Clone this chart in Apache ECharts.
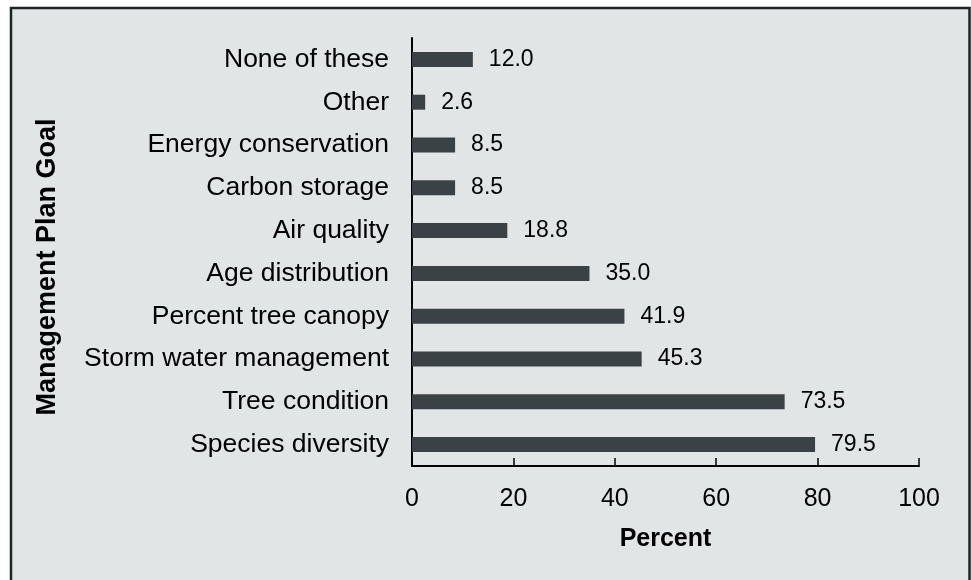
<!DOCTYPE html>
<html>
<head>
<meta charset="utf-8">
<script src="https://cdn.jsdelivr.net/npm/echarts@6/dist/echarts.min.js"></script>
<style>
html,body{margin:0;padding:0;background:#fff;}
#chart{width:971px;height:580px;}
</style>
</head>
<body>
<div id="chart"></div>
<script>
const categories = ["Species diversity","Tree condition","Storm water management","Percent tree canopy","Age distribution","Air quality","Carbon storage","Energy conservation","Other","None of these"];
const values = [79.5, 73.5, 45.3, 41.9, 35.0, 18.8, 8.5, 8.5, 2.6, 12.0];
const xTicks = [0, 20, 40, 60, 80, 100];
const xTitle = "Percent";
const yTitle = "Management Plan Goal";

const chart = echarts.init(document.getElementById('chart'), null, {renderer:'canvas'});
const font = '"Liberation Sans", Arial, sans-serif';
chart.setOption({
  backgroundColor: '#ffffff',
  animation: false,
  graphic: [{
    type: 'rect', z: -10, silent: true,
    shape: {x: 11, y: 8, width: 958.5, height: 600},
    style: {fill: '#e1e5e6', stroke: '#222222', lineWidth: 2.5}
  }],
  grid: {left: 412, right: 52, top: 38, bottom: 114, containLabel: false},
  xAxis: {
    type: 'value', min: xTicks[0], max: xTicks[xTicks.length-1], interval: 20,
    name: xTitle, nameLocation: 'middle', nameGap: 61,
    nameTextStyle: {fontFamily: font, fontSize: 25, fontWeight: 'bold', color: '#000'},
    axisLine: {show: true, lineStyle: {color: '#000', width: 2}},
    axisTick: {show: true, inside: true, length: 8, lineStyle: {color: '#000', width: 1.5}},
    axisLabel: {fontFamily: font, fontSize: 25, color: '#000', margin: 21},
    splitLine: {show: false}
  },
  yAxis: {
    type: 'category', data: categories,
    name: yTitle, nameLocation: 'middle', nameGap: 351, nameRotate: 90,
    nameTextStyle: {fontFamily: font, fontSize: 27, fontWeight: 'bold', color: '#000', padding: [0, 30, 0, 0]},
    axisLine: {show: true, lineStyle: {color: '#000', width: 2}},
    axisTick: {show: false},
    axisLabel: {fontFamily: font, fontSize: 26.5, color: '#000', margin: 23},
    splitLine: {show: false}
  },
  series: [{
    type: 'bar', data: values, barWidth: 15,
    itemStyle: {color: '#3b4245'},
    label: {show: true, position: 'right', distance: 16, fontFamily: font, fontSize: 23, color: '#000',
      formatter: p => p.value.toFixed(1)}
  }]
});
</script>
</body>
</html>
